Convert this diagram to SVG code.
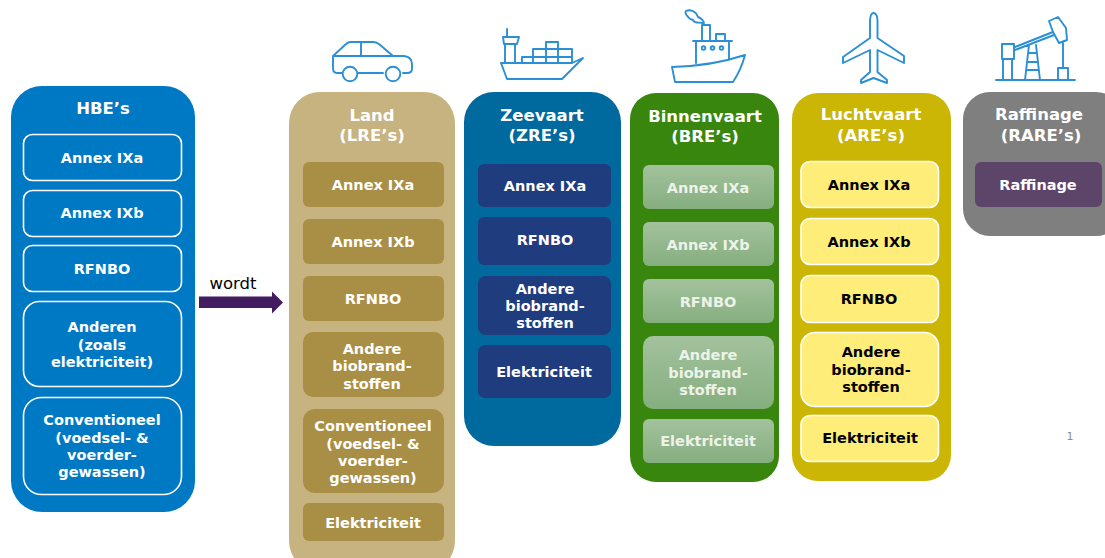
<svg xmlns="http://www.w3.org/2000/svg" width="1105" height="558" viewBox="0 0 1105 558">
<style>
text{font-family:"DejaVu Sans",Verdana,sans-serif;font-weight:700;text-anchor:middle;fill:#fff}
.t{font-size:16.5px}
.s{font-size:14.5px}
.k{fill:#000}
.b{fill:#EDF3E9}
.ic{fill:none;stroke:#2B8FD6;stroke-width:1.9;stroke-linejoin:round;stroke-linecap:round}
.hs{fill:#0079C5;stroke:#fff;stroke-width:1.6}
.ls{fill:#A98F45}
.zs{fill:#1F3C7F}
.bs{fill:url(#gb)}
.as{fill:#FFED7A;stroke:#fff;stroke-width:1.6}
</style>
<defs><linearGradient id="gb" x1="0" y1="0" x2="0" y2="1"><stop offset="0" stop-color="#A3C29D"/><stop offset="1" stop-color="#85AE7F"/></linearGradient></defs>
<rect width="1105" height="558" fill="#fff"/>
<g id="hbe">
<rect x="11" y="86" width="184" height="426" rx="31" fill="#0079C5"/>
<text class="t" x="103" y="114">HBE’s</text>
<rect class="hs" x="23.500" y="134.500" width="158" height="46" rx="9"/><text class="s" x="102" y="163">Annex IXa</text>
<rect class="hs" x="23.500" y="190.500" width="158" height="46" rx="9"/><text class="s" x="102" y="218">Annex IXb</text>
<rect class="hs" x="23.500" y="245.500" width="158" height="46" rx="9"/><text class="s" x="102" y="274">RFNBO</text>
<rect class="hs" x="23.500" y="301.500" width="158" height="85" rx="16"/><text class="s" x="102" y="332">Anderen</text><text class="s" x="102" y="350">(zoals</text><text class="s" x="102" y="367">elektriciteit)</text>
<rect class="hs" x="23.500" y="397.500" width="158" height="97" rx="18"/><text class="s" x="102" y="425">Conventioneel</text><text class="s" x="102" y="443">(voedsel- &amp;</text><text class="s" x="102" y="460">voerder-</text><text class="s" x="102" y="477">gewassen)</text>
</g>
<g id="connectors">
<path d="M199 296.500H272V291.500L283 302.500 272 313.500V308H199Z" fill="#431B5F"/>
</g>
<text x="233" y="289" style="font-weight:400;font-size:16.5px;fill:#000">wordt</text>
<g id="land">
<rect x="289" y="92" width="166" height="480" rx="31" fill="#C7B37F"/>
<text class="t" x="372" y="121">Land</text><text class="t" x="372" y="141">(LRE’s)</text>
<rect class="ls" x="303" y="162" width="141" height="45" rx="6"/><text class="s" x="373" y="190">Annex IXa</text>
<rect class="ls" x="303" y="219" width="141" height="45" rx="6"/><text class="s" x="373" y="247">Annex IXb</text>
<rect class="ls" x="303" y="276" width="141" height="45" rx="6"/><text class="s" x="373" y="304">RFNBO</text>
<rect class="ls" x="303" y="332" width="141" height="65" rx="10"/><text class="s" x="372" y="354">Andere</text><text class="s" x="372" y="371">biobrand-</text><text class="s" x="372" y="389">stoffen</text>
<rect class="ls" x="303" y="409" width="141" height="84" rx="12"/><text class="s" x="373" y="431">Conventioneel</text><text class="s" x="373" y="449">(voedsel- &amp;</text><text class="s" x="373" y="466">voerder-</text><text class="s" x="373" y="483">gewassen)</text>
<rect class="ls" x="303" y="503" width="141" height="38" rx="6"/><text class="s" x="373" y="528">Elektriciteit</text>
</g>
<g id="zeevaart">
<rect x="464" y="92" width="157" height="354" rx="30" fill="#00699D"/>
<text class="t" x="542" y="121">Zeevaart</text><text class="t" x="542" y="141">(ZRE’s)</text>
<rect class="zs" x="478" y="164" width="133" height="43" rx="6"/><text class="s" x="545" y="191">Annex IXa</text>
<rect class="zs" x="478" y="217" width="133" height="48" rx="6"/><text class="s" x="545" y="245">RFNBO</text>
<rect class="zs" x="478" y="276" width="133" height="59" rx="8"/><text class="s" x="545" y="294">Andere</text><text class="s" x="545" y="311">biobrand-</text><text class="s" x="545" y="328">stoffen</text>
<rect class="zs" x="478" y="345" width="133" height="53" rx="7"/><text class="s" x="544" y="377">Elektriciteit</text>
</g>
<g id="binnenvaart">
<rect x="630" y="93" width="149" height="389" rx="26" fill="#38860D"/>
<text class="t" x="705" y="122">Binnenvaart</text><text class="t" x="705" y="142">(BRE’s)</text>
<rect class="bs" x="643" y="165" width="131" height="44" rx="6"/><text class="s b" x="708" y="193">Annex IXa</text>
<rect class="bs" x="643" y="222" width="131" height="44" rx="6"/><text class="s b" x="708" y="250">Annex IXb</text>
<rect class="bs" x="643" y="279" width="131" height="44" rx="6"/><text class="s b" x="708" y="307">RFNBO</text>
<rect class="bs" x="643" y="336" width="131" height="73" rx="10"/><text class="s b" x="708" y="360">Andere</text><text class="s b" x="708" y="378">biobrand-</text><text class="s b" x="708" y="395">stoffen</text>
<rect class="bs" x="643" y="419" width="131" height="44" rx="6"/><text class="s b" x="708" y="446">Elektriciteit</text>
</g>
<g id="luchtvaart">
<rect x="792" y="93" width="159" height="388" rx="26" fill="#CBB605"/>
<text class="t" x="871" y="120">Luchtvaart</text><text class="t" x="871" y="141">(ARE’s)</text>
<rect class="as" x="801" y="161.500" width="137.500" height="46" rx="9"/><text class="s k" x="869" y="190">Annex IXa</text>
<rect class="as" x="801" y="218.500" width="137.500" height="46" rx="9"/><text class="s k" x="869" y="247">Annex IXb</text>
<rect class="as" x="801" y="275.500" width="137.500" height="47" rx="9"/><text class="s k" x="869" y="304">RFNBO</text>
<rect class="as" x="801" y="332.500" width="137.500" height="74" rx="14"/><text class="s k" x="871" y="357">Andere</text><text class="s k" x="871" y="375">biobrand-</text><text class="s k" x="871" y="392">stoffen</text>
<rect class="as" x="801" y="415.500" width="137.500" height="46" rx="9"/><text class="s k" x="870" y="443">Elektriciteit</text>
</g>
<g id="raffinage">
<rect x="963" y="92" width="160" height="144" rx="27" fill="#7F7F7F"/>
<text class="t" x="1039" y="120">Raffinage</text><text class="t" x="1041" y="141">(RARE’s)</text>
<rect x="975" y="162" width="127" height="45" rx="6" fill="#5D4469"/><text class="s" x="1038" y="190">Raffinage</text>
</g>
<text x="1070" y="440" style="font-weight:400;font-size:11px;fill:#8c8c8c">1</text>
<g id="icon-car" class="ic">
<path d="M342 73H337Q333 73 333 68V56L346 44Q348 42 351 42H373Q376 42 379 44L393 56H404Q412 57 412 64V69Q412 73 407 73H403M383 73H358M333 56H393M361 42V56"/>
<circle cx="350" cy="74" r="7.300"/><circle cx="393" cy="74" r="7.300"/>
</g>
<g id="icon-cargo" class="ic">
<path d="M501 63H572L583 58 562 79H507ZM505 63V44H515V63M504 44L503 37H519L517 44ZM507 37V29M522 63V57H572V63M533 63V49H572V57M546 63V42H558V63M546 49V57"/>
</g>
<g id="icon-tug" class="ic">
<path d="M672 67Q712 66 745 55Q741 70 733 82H675ZM696 63V41H729V58M693 41H732M702 41V25H710V41M716 41V34H725V41M703 23C700 22 694 24 693 20 688 19 684 12 686 11 690 9 696 11 698 17 701 18 704 21 704 23"/>
<circle cx="703.500" cy="48" r="1.800"/><circle cx="712.500" cy="48" r="1.800"/><circle cx="721.500" cy="48" r="1.800"/>
</g>
<g id="icon-plane" class="ic">
<path d="M873.500 13Q877 13 877.500 20V38L904 56V63L877.500 50V72L887 80V83L873.500 78 861 83V80L870 72V50L843 63V57L870 38V20Q870.500 13 873.500 13Z"/>
</g>
<g id="icon-pump" class="ic">
<path d="M996 80H1075M1002 44H1014V59H1002ZM1003 59V80M1012 59V80M1015 47L1053 32M1015 50L1054 35M1049 21L1058 17 1066 28 1067 40 1059 43 1053 32ZM1063 43V68M1058 68H1068V80H1058ZM1025 80L1029 45M1036 45L1040 80M1028 53H1037M1027 62H1038M1026 70H1039"/>
</g>
</svg>
